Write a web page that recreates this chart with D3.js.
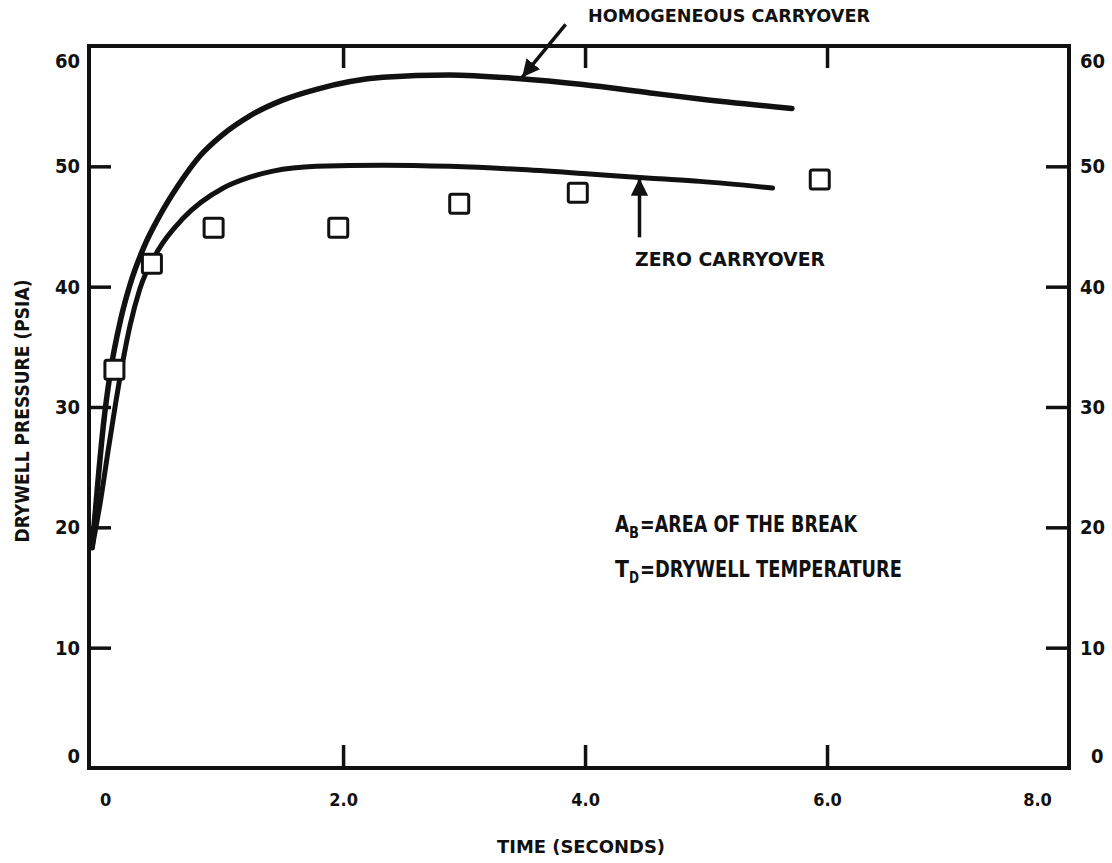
<!DOCTYPE html>
<html><head><meta charset="utf-8">
<script src="https://cdn.jsdelivr.net/npm/d3@7"></script>
<style>
body{margin:0;background:#fff}
svg{display:block}
text{font-family:"DejaVu Sans Condensed","Liberation Sans Narrow","Liberation Sans",sans-serif;font-weight:bold;fill:#111}
</style>
</head><body>
<svg id="c" width="1112" height="863"></svg>
<script>
// ---- data ----
const timeTicks = [0, 2, 4, 6, 8];
const timeTickLabels = ["0", "2.0", "4.0", "6.0", "8.0"];
const pressureTicks = [0, 10, 20, 30, 40, 50, 60];

const homogeneousTime = [-0.074, -0.02, 0.02, 0.075, 0.16, 0.24, 0.35, 0.49, 0.63, 0.82, 1.0, 1.23, 1.5, 1.78, 2.33, 2.88, 3.44, 3.98, 4.54, 4.95, 5.71];
const homogeneousPressure = [18.3, 24.5, 28.6, 32.8, 37.2, 40.2, 43.2, 46.0, 48.3, 50.9, 52.6, 54.2, 55.5, 56.4, 57.4, 57.6, 57.3, 56.8, 56.1, 55.6, 54.8];

const zeroTime = [-0.074, 0.0, 0.06, 0.12, 0.18, 0.24, 0.32, 0.47, 0.68, 1.01, 1.23, 1.42, 1.78, 2.33, 2.88, 3.44, 3.98, 4.54, 4.95, 5.55];
const zeroPressure = [18.3, 22.5, 26.5, 30.3, 33.8, 36.8, 39.8, 43.0, 45.7, 48.2, 49.1, 49.6, 50.0, 50.1, 50.0, 49.75, 49.4, 49.0, 48.75, 48.2];

const measuredTime = [0.11, 0.42, 0.93, 1.96, 2.96, 3.94, 5.94];
const measuredPressure = [33.1, 41.9, 44.9, 44.9, 46.9, 47.8, 48.9];

const xTitle = "TIME (SECONDS)";
const yTitle = "DRYWELL PRESSURE (PSIA)";
const homLabel = "HOMOGENEOUS CARRYOVER";
const zeroLabel = "ZERO CARRYOVER";
const noteLines = [["A", "B", "=AREA OF THE BREAK"], ["T", "D", "=DRYWELL TEMPERATURE"]];

// ---- layout ----
const svg = d3.select("#c");
const x = d3.scaleLinear().domain([-0.1, 8]).range([89, 1069]);
const y = d3.scaleLinear().domain([0, 60]).range([768, 46]);
const X0 = x(-0.1), X1 = x(8), Y0 = y(0), Y1 = y(60);

// arrow marker
const defs = svg.append("defs");
defs.append("marker").attr("id", "ah").attr("viewBox", "0 0 10 10")
  .attr("refX", 10).attr("refY", 5).attr("markerWidth", 5).attr("markerHeight", 5)
  .attr("markerUnits", "strokeWidth").attr("orient", "auto")
  .append("path").attr("d", "M0,0 L10,5 L0,10 Z").attr("fill", "#111");

// inner tick marks
function styleTicks(g){ g.select(".domain").remove(); g.selectAll("line").attr("stroke","#111").attr("stroke-width",3.5); }
svg.append("g").attr("transform", `translate(${X0},0)`)
  .call(d3.axisLeft(y).tickValues([10,20,30,40,50]).tickSize(-22).tickFormat("")).call(styleTicks);
svg.append("g").attr("transform", `translate(${X1},0)`)
  .call(d3.axisRight(y).tickValues([10,20,30,40,50]).tickSize(-23).tickFormat("")).call(styleTicks);
svg.append("g").attr("transform", `translate(0,${Y0})`)
  .call(d3.axisBottom(x).tickValues([2,4,6]).tickSize(-23).tickFormat("")).call(styleTicks);
svg.append("g").attr("transform", `translate(0,${Y1})`)
  .call(d3.axisTop(x).tickValues([2,4,6]).tickSize(-22).tickFormat("")).call(styleTicks);

// tick labels
function styleLabels(g, size){ g.select(".domain").remove(); g.selectAll("line").remove(); g.selectAll("text").attr("font-size", size).attr("font-family", null).attr("fill", "#111"); }
const gl = svg.append("g").attr("transform", `translate(${X0},0)`)
  .call(d3.axisLeft(y).tickValues(pressureTicks).tickSize(0).tickPadding(9).tickFormat(d3.format("d")))
  .call(g => styleLabels(g, 20));
const gr = svg.append("g").attr("transform", `translate(${X1},0)`)
  .call(d3.axisRight(y).tickValues(pressureTicks).tickSize(0).tickPadding(11).tickFormat(d3.format("d")))
  .call(g => styleLabels(g, 20));
[gl, gr].forEach((g, k) => g.selectAll(".tick").each(function(d){
  const t = d3.select(this).select("text");
  if (d === 60) t.attr("y", 15);
  if (d === 0) { t.attr("y", -12); if (k === 1) t.attr("x", 22); }
}));
const gb = svg.append("g").attr("transform", `translate(0,${Y0})`)
  .call(d3.axisBottom(x).tickValues(timeTicks).tickSize(0).tickPadding(25)
    .tickFormat((d,i) => timeTickLabels[i]))
  .call(g => styleLabels(g, 18));
gb.selectAll(".tick").each(function(d){
  const t = d3.select(this).select("text");
  if (d === 0) t.attr("x", 4);
  if (d === 8) t.attr("x", -32);
});

// frame
svg.append("rect").attr("x", X0).attr("y", Y1).attr("width", X1 - X0).attr("height", Y0 - Y1)
  .attr("fill", "none").attr("stroke", "#111").attr("stroke-width", 4);

// axis titles
svg.append("text").attr("transform", `translate(29,${411}) rotate(-90)`)
  .attr("text-anchor", "middle").attr("font-size", 19)
  .attr("textLength", 263).attr("lengthAdjust", "spacingAndGlyphs").text(yTitle);
svg.append("text").attr("x", 497).attr("y", 853).attr("font-size", 18)
  .attr("textLength", 168).attr("lengthAdjust", "spacingAndGlyphs").text(xTitle);

// curves
const line = d3.line().x(d => x(d[0])).y(d => y(d[1])).curve(d3.curveMonotoneX);
svg.append("path").datum(homogeneousTime.map((t,i) => [t, homogeneousPressure[i]]))
  .attr("d", line).attr("fill", "none").attr("stroke", "#111").attr("stroke-width", 5.5)
  .attr("stroke-linecap", "round").attr("stroke-linejoin", "round");
svg.append("path").datum(zeroTime.map((t,i) => [t, zeroPressure[i]]))
  .attr("d", line).attr("fill", "none").attr("stroke", "#111").attr("stroke-width", 5)
  .attr("stroke-linecap", "round").attr("stroke-linejoin", "round");

// measured squares
const sz = 19;
svg.append("g").selectAll("rect").data(measuredTime.map((t,i) => [t, measuredPressure[i]]))
  .join("rect")
  .attr("x", d => x(d[0]) - sz/2).attr("y", d => y(d[1]) - sz/2)
  .attr("width", sz).attr("height", sz).attr("rx", 2)
  .attr("fill", "#fff").attr("stroke", "#111").attr("stroke-width", 3);

// annotations
svg.append("line").attr("x1", x(3.84)).attr("y1", y(61.8)).attr("x2", x(3.48)).attr("y2", y(57.4))
  .attr("stroke", "#111").attr("stroke-width", 3.5).attr("marker-end", "url(#ah)");
svg.append("text").attr("x", 588).attr("y", 22).attr("font-size", 18)
  .attr("textLength", 282).attr("lengthAdjust", "spacingAndGlyphs").text(homLabel);

svg.append("line").attr("x1", x(4.45)).attr("y1", y(44.1)).attr("x2", x(4.45)).attr("y2", y(49.0))
  .attr("stroke", "#111").attr("stroke-width", 3.5).attr("marker-end", "url(#ah)");
svg.append("text").attr("x", 635).attr("y", 266).attr("font-size", 20)
  .attr("textLength", 190).attr("lengthAdjust", "spacingAndGlyphs").text(zeroLabel);

// notes: main letter, subscript, rest as separate texts side by side
const noteBase = [532, 577];
const noteRestLen = [217, 262];
noteLines.forEach((parts, i) => {
  const by = noteBase[i];
  svg.append("text").attr("x", 615).attr("y", by).attr("font-size", 23)
    .attr("textLength", 14).attr("lengthAdjust", "spacingAndGlyphs").text(parts[0]);
  svg.append("text").attr("x", 629).attr("y", by + 6).attr("font-size", 15)
    .attr("textLength", 10).attr("lengthAdjust", "spacingAndGlyphs").text(parts[1]);
  svg.append("text").attr("x", 640).attr("y", by).attr("font-size", 23)
    .attr("textLength", noteRestLen[i]).attr("lengthAdjust", "spacingAndGlyphs").text(parts[2]);
});
</script>
</body></html>
